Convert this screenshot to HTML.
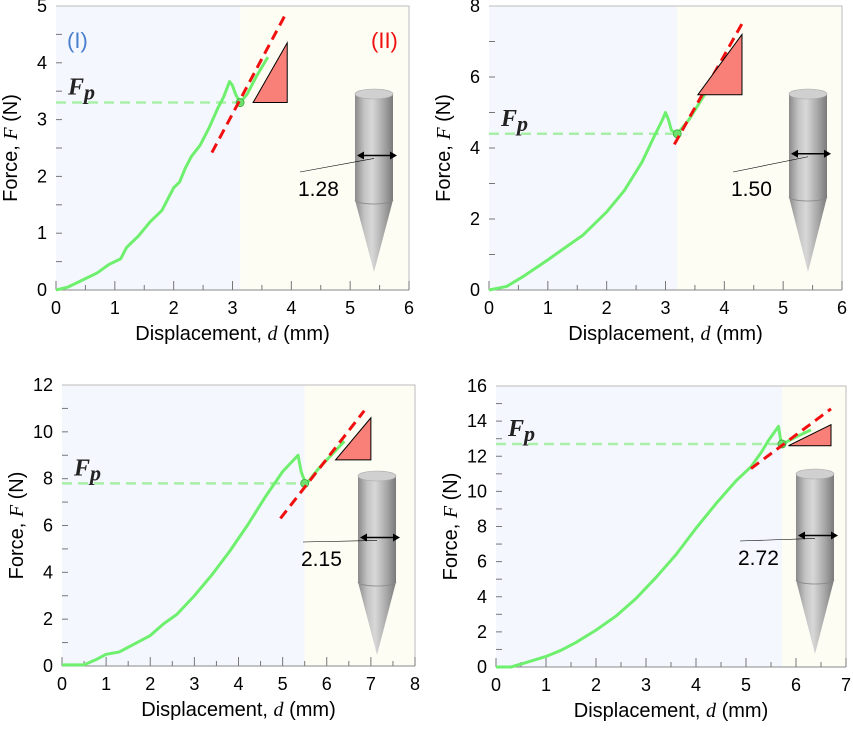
<!DOCTYPE html>
<html><head><meta charset="utf-8"><style>
body{margin:0;background:#fff}
</style></head><body>
<svg id="s" width="853" height="726" xmlns="http://www.w3.org/2000/svg" style="font-family:'Liberation Sans',sans-serif">
<defs>
<linearGradient id="cyl" x1="0" x2="1" y1="0" y2="0">
<stop offset="0" stop-color="#8a8a8a"/><stop offset="0.25" stop-color="#c4c4c4"/><stop offset="0.45" stop-color="#d8d8d8"/><stop offset="0.75" stop-color="#a8a8a8"/><stop offset="1" stop-color="#7a7a7a"/>
</linearGradient>
</defs>
</svg>
<script>
// Panel A
const xA=[0,0.2,0.4,0.5,0.7,0.9,1.0,1.1,1.2,1.4,1.6,1.8,2.0,2.1,2.2,2.3,2.45,2.6,2.75,2.85,2.95,3.0,3.05,3.13,3.25,3.4,3.6];
const yA=[0,0.05,0.15,0.2,0.3,0.45,0.5,0.55,0.75,0.95,1.2,1.4,1.8,1.9,2.15,2.35,2.55,2.85,3.2,3.4,3.67,3.6,3.45,3.3,3.45,3.75,4.1];
// Panel B
const xB=[0,0.3,0.6,1.0,1.3,1.6,2.0,2.3,2.6,2.8,2.95,3.0,3.05,3.1,3.2,3.4,3.7,4.0,4.2];
const yB=[0,0.1,0.4,0.85,1.2,1.55,2.2,2.8,3.6,4.3,4.8,5.0,4.8,4.5,4.4,4.8,5.6,6.4,6.9];
// Panel C
const xC=[0,0.5,0.8,1.0,1.3,1.6,2.0,2.3,2.6,3.0,3.4,3.8,4.2,4.6,5.0,5.2,5.35,5.42,5.5,5.55,5.8,6.1,6.4];
const yC=[0.05,0.05,0.3,0.5,0.6,0.9,1.3,1.8,2.2,3.0,3.9,4.9,6.0,7.2,8.3,8.7,9.0,8.3,7.9,7.8,8.4,9.0,9.6];
// Panel D
const xD=[0,0.3,0.6,1.0,1.3,1.6,2.0,2.4,2.8,3.2,3.6,4.0,4.4,4.8,5.1,5.3,5.45,5.6,5.65,5.7,5.8,6.0,6.3];
const yD=[0,0,0.25,0.6,0.95,1.4,2.1,2.9,3.9,5.1,6.4,7.9,9.3,10.6,11.4,12.2,12.9,13.5,13.7,12.8,12.8,13.1,13.5];
const fpVals=[3.3,4.4,7.8,12.7];
const boundaries=[3.13,3.2,5.5,5.72];
const tangents=[[2.65,2.42,3.9,4.85],[3.15,4.1,4.3,7.5],[4.95,6.3,6.85,10.9],[5.1,11.3,6.7,14.7]];
const triangles=[[3.35,3.3,3.93,4.35],[3.55,5.5,4.3,7.2],[6.2,8.8,7.0,10.6],[5.85,12.6,6.7,13.8]];
const diameters=["1.28","1.50","2.15","2.72"];
const xMaxes=[6,6,8,7], yMaxes=[5,8,12,16], yStep=[1,2,2,2];

const NS="http://www.w3.org/2000/svg", svg=document.getElementById('s');
function mk(tag,at,parent){const e=document.createElementNS(NS,tag);for(const k in at)e.setAttribute(k,at[k]);(parent||svg).appendChild(e);return e;}

const geo=[{l:56,r:409,t:6,b:290},{l:489,r:842,t:6,b:290},{l:62,r:415,t:385,b:666},{l:496,r:846,t:386,b:667}];
const cyls=[{x:355,top:94,bot:200,tip:272,lab:[298,196]},{x:789,top:94,bot:197,tip:272,lab:[731,196]},{x:358,top:476,bot:582,tip:655,lab:[301,566]},{x:796,top:474,bot:580,tip:654,lab:[738,565]}];
const data=[[xA,yA],[xB,yB],[xC,yC],[xD,yD]];

for(let p=0;p<4;p++){
  const g0=geo[p], xm=xMaxes[p], ym=yMaxes[p];
  const X=v=>g0.l+(g0.r-g0.l)*v/xm, Y=v=>g0.b-(g0.b-g0.t)*v/ym;
  const g=mk('g',{});
  
  
  const bx=X(boundaries[p]);
  let r=mk('rect',{x:g0.l,y:g0.t,width:bx-g0.l,height:g0.b-g0.t,fill:'#f4f7fe'},g);
  
  r=mk('rect',{x:bx,y:g0.t,width:g0.r-bx,height:g0.b-g0.t,fill:'#fdfdf4'},g);
  
  mk('path',{d:`M${g0.l},${g0.t}H${g0.r}V${g0.b}`,stroke:'#bbb',fill:'none','stroke-width':1},g);
  mk('line',{x1:g0.l,y1:g0.b,x2:g0.r,y2:g0.b,stroke:'#888'},g);
  for(let v=0;v<=xm;v+=0.5){
    const x=X(v);
    mk('line',{x1:x,y1:g0.b,x2:x,y2:g0.b-(v%1?5:9),stroke:'#777'},g);
    if(v%1===0){const t=mk('text',{x:x,y:g0.b+24,'text-anchor':'middle','font-size':18},g);t.textContent=v;
      }
  }
  for(let v=0;v<=ym;v+=yStep[p]/2){
    const y=Y(v);
    if(v>0&&v<ym)mk('line',{x1:g0.l,y1:y,x2:g0.l+6,y2:y,stroke:'#777'},g);
    if(Math.abs(v/yStep[p]-Math.round(v/yStep[p]))<1e-6){const t=mk('text',{x:g0.l-9,y:y+6,'text-anchor':'end','font-size':18},g);t.textContent=v;
      }
  }
  let t=mk('text',{x:(g0.l+g0.r)/2,y:g0.b+50,'text-anchor':'middle','font-size':20},g);
  t.innerHTML='Displacement, <tspan style="font-family:\'Liberation Serif\',serif;font-style:italic">d</tspan> (mm)';
  
  const cy=(g0.t+g0.b)/2;
  t=mk('text',{x:0,y:0,'text-anchor':'middle','font-size':20,transform:`translate(${g0.l-39},${cy}) rotate(-90)`},g);
  t.innerHTML='Force, <tspan style="font-family:\'Liberation Serif\',serif;font-style:italic">F</tspan> (N)';
  
  const fy=Y(fpVals[p]);
  let l=mk('line',{x1:g0.l,y1:fy,x2:bx,y2:fy,stroke:'#a8f0a8','stroke-width':2.5,'stroke-dasharray':'10,6'},g);
  
  t=mk('text',{x:g0.l+12,y:fy-8,'font-size':24,fill:'#222',style:"font-family:'Liberation Serif',serif;font-weight:bold;font-style:italic"},g);
  t.innerHTML='F<tspan dy="5" font-size="22">p</tspan>';
  
  const [xs,ys]=data[p];
  const pl=mk('polyline',{points:xs.map((v,i)=>X(v)+','+Y(ys[i])).join(' '),fill:'none',stroke:'#6ef06e','stroke-width':3,'stroke-linejoin':'round'},g);
  
  const c=mk('circle',{cx:bx,cy:fy,r:4,fill:'#6ee06e',stroke:'#3a3',"stroke-width":0.8},g);
  
  const tg=tangents[p];
  l=mk('line',{x1:X(tg[0]),y1:Y(tg[1]),x2:X(tg[2]),y2:Y(tg[3]),stroke:'#f01010','stroke-width':3,'stroke-dasharray':'10,6'},g);
  
  const tr=triangles[p];
  const pg=mk('polygon',{points:`${X(tr[0])},${Y(tr[1])} ${X(tr[2])},${Y(tr[1])} ${X(tr[2])},${Y(tr[3])}`,fill:'#f88078',stroke:'#000','stroke-width':1},g);
  
  if(p===0){
    t=mk('text',{x:67,y:48,'font-size':22,fill:'#4a7fd0'},g);t.textContent='(I)';
    
    t=mk('text',{x:371,y:48,'font-size':22,fill:'#f01010'},g);t.textContent='(II)';
    
  }
  const C=cyls[p], w=38, cx2=C.x+w/2;
  const cg=mk('g',{},g);
  
  mk('polygon',{points:`${C.x},${C.bot} ${C.x+w},${C.bot} ${cx2},${C.tip}`,fill:'url(#cyl)'},cg);
  mk('rect',{x:C.x,y:C.top,width:w,height:C.bot-C.top,fill:'url(#cyl)'},cg);
  mk('path',{d:`M${C.x},${C.bot} A${w/2},4 0 0 0 ${C.x+w},${C.bot}`,fill:'none',stroke:'#888','stroke-width':0.8},cg);
  mk('ellipse',{cx:cx2,cy:C.top,rx:w/2,ry:5,fill:'#d0d0d0',stroke:'#aaa','stroke-width':0.6},cg);
  const ay=C.top+(C.bot-C.top)*0.58;
  mk('line',{x1:C.x+4,y1:ay,x2:C.x+w+2,y2:ay,stroke:'#000','stroke-width':1.5},cg);
  mk('path',{d:`M${C.x+2},${ay} l7,-4 v8z M${C.x+w+4},${ay} l-7,-4 v8z`,fill:'#000'},cg);
  mk('line',{x1:C.lab[0]+2,y1:C.lab[1]-24,x2:C.x+w/2,y2:ay+3,stroke:'#000','stroke-width':0.6},cg);
  t=mk('text',{x:C.lab[0],y:C.lab[1],'font-size':21},cg);t.textContent=diameters[p];
  
}
</script>
</body></html>
